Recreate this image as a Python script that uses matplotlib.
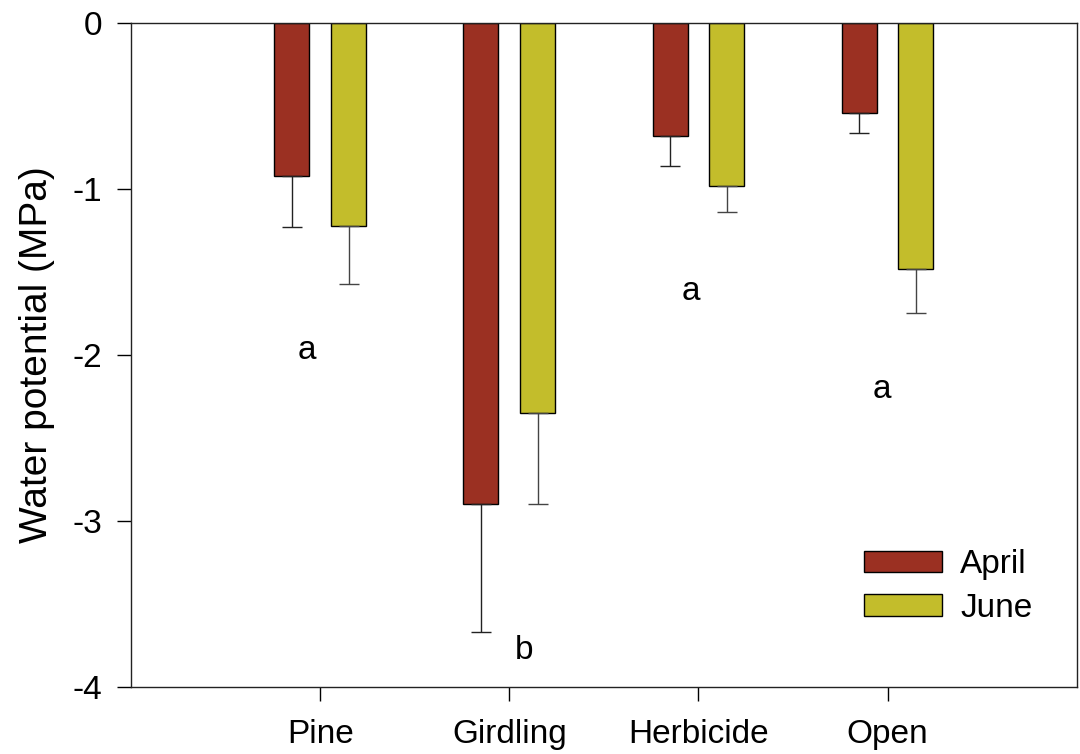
#!/usr/bin/env python3
"""Water potential by treatment, April vs June."""

import matplotlib.pyplot as plt
import numpy as np

plt.rcParams["font.family"] = ["Liberation Sans", "DejaVu Sans"]

treatments = ["Pine", "Girdling", "Herbicide", "Open"]
april = [-0.92, -2.90, -0.68, -0.54]
april_err = [0.31, 0.77, 0.18, 0.12]
june = [-1.22, -2.35, -0.98, -1.48]
june_err = [0.35, 0.55, 0.16, 0.27]

letters = ["a", "b", "a", "a"]
letter_x = [0.93, 2.08, 2.96, 3.97]
letter_y = [-1.97, -3.78, -1.62, -2.21]

april_color = "#9B3022"
june_color = "#C3BD2B"

fig = plt.figure(figsize=(10.8, 7.54), dpi=100)
ax = fig.add_axes([0.1213, 0.0889, 0.8757, 0.8806])

x = np.arange(1, len(treatments) + 1)
width = 0.185
off = 0.15

ax.bar(x - off, april, width, color=april_color, edgecolor="black",
       linewidth=1, label="April", zorder=2)
ax.bar(x + off, june, width, color=june_color, edgecolor="black",
       linewidth=1, label="June", zorder=2)

zeros = np.zeros(len(x))
ax.errorbar(x - off, april, yerr=[april_err, zeros], fmt="none",
            ecolor="#222222", elinewidth=1, capsize=7.5, capthick=1, zorder=3)
ax.errorbar(x + off, june, yerr=[june_err, zeros], fmt="none",
            ecolor="#444444", elinewidth=1, capsize=7.5, capthick=1, zorder=3)

for lx, ly, t in zip(letter_x, letter_y, letters):
    ax.text(lx, ly, t, fontsize=24, ha="center", va="center")

ax.set_xlim(0, 5)
ax.set_ylim(-4, 0)
ax.set_yticks([0, -1, -2, -3, -4])
ax.set_yticklabels(["0", "-1", "-2", "-3", "-4"])
ax.set_xticks(x)
ax.set_xticklabels(treatments)
ax.tick_params(axis="y", direction="out", length=10, width=1, labelsize=24, pad=11)
ax.tick_params(axis="x", direction="out", length=10, width=1, labelsize=24, pad=13)
ax.set_ylabel("Water potential (MPa)", fontsize=28, labelpad=12)

for s in ax.spines.values():
    s.set_linewidth(1)
    s.set_color("#222222")

ax.legend(loc="lower right", bbox_to_anchor=(0.985, 0.05), frameon=False,
          fontsize=24, handlelength=2.35, handleheight=0.6,
          handletextpad=0.55, labelspacing=0.38)

plt.savefig("out.png", dpi=100)
plt.close()
